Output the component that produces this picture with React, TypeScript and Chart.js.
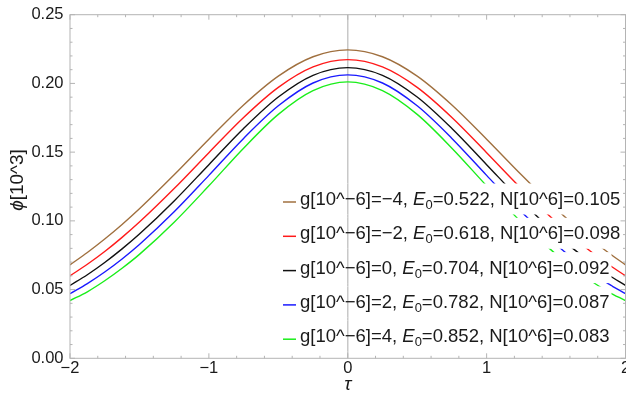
import React, { useEffect, useRef } from "react";
import { Chart, registerables } from "chart.js";

Chart.register(...registerables);

// τ sample positions and φ[10^3] values for each coupling g[10^-6]
const tauValues = [-2, -1.875, -1.75, -1.625, -1.5, -1.25, -1, -0.75, -0.5, -0.25, 0, 0.25, 0.5, 0.75, 1, 1.25, 1.5, 1.625, 1.75, 1.875, 2];

const phiGm4 = [0.068, 0.077, 0.0868, 0.0974, 0.1088, 0.1335, 0.1594, 0.1843, 0.2053, 0.2194, 0.2244, 0.2194, 0.2053, 0.1843, 0.1594, 0.1335, 0.1088, 0.0974, 0.0868, 0.077, 0.068];
const phiGm2 = [0.06, 0.0684, 0.0777, 0.088, 0.0991, 0.1235, 0.1496, 0.1752, 0.1971, 0.212, 0.2173, 0.212, 0.1971, 0.1752, 0.1496, 0.1235, 0.0991, 0.088, 0.0777, 0.0684, 0.06];
const phiG0 = [0.053, 0.0608, 0.0697, 0.0796, 0.0904, 0.1145, 0.1409, 0.1672, 0.1901, 0.2059, 0.2115, 0.2059, 0.1901, 0.1672, 0.1409, 0.1145, 0.0904, 0.0796, 0.0697, 0.0608, 0.053];
const phiG2 = [0.047, 0.0544, 0.0628, 0.0723, 0.0828, 0.1066, 0.1331, 0.16, 0.1837, 0.2003, 0.2062, 0.2003, 0.1837, 0.16, 0.1331, 0.1066, 0.0828, 0.0723, 0.0628, 0.0544, 0.047];
const phiG4 = [0.042, 0.0484, 0.0564, 0.0655, 0.0756, 0.099, 0.1255, 0.1529, 0.1775, 0.1948, 0.2011, 0.1948, 0.1775, 0.1529, 0.1255, 0.099, 0.0756, 0.0655, 0.0564, 0.0484, 0.042];

const gValues = [-4, -2, 0, 2, 4];
const e0Values = ["0.522", "0.618", "0.704", "0.782", "0.852"];
const nValues = ["0.105", "0.098", "0.092", "0.087", "0.083"];
const seriesColors = ["#a0703f", "#ff1a1a", "#111111", "#1a1aff", "#1aee1a"];

const xTickValues = [-2, -1, 0, 1, 2];
const yTickValues = [0, 0.05, 0.1, 0.15, 0.2, 0.25];

const FONT = "'Liberation Sans', Arial, sans-serif";
const FRAME_COLOR = "#b4b4b4";
const AXIS_COLOR = "#c8c8c8";

const signed = (v: number) => (v < 0 ? "\u2212" + Math.abs(v) : String(v));

const LEG_FS = 18.5;
const LEG_X_MARK = 283;
const LEG_X_TEXT = 300;
const LEG_Y0 = 198.5;
const LEG_DY = 34.3;

function legendRows(ctx: CanvasRenderingContext2D) {
  return gValues.map((g, i) => {
    const p1 = `g[10^\u22126]=${signed(g)}, `;
    const p2 = "E";
    const p3 = "0";
    const p4 = `=${e0Values[i]}, N[10^6]=${nValues[i]}`;
    ctx.font = `${LEG_FS}px ${FONT}`;
    const w1 = ctx.measureText(p1).width;
    const w4 = ctx.measureText(p4).width;
    ctx.font = `italic ${LEG_FS}px ${FONT}`;
    const w2 = ctx.measureText(p2).width;
    ctx.font = `${LEG_FS * 0.7}px ${FONT}`;
    const w3 = ctx.measureText(p3).width;
    return { p1, p2, p3, p4, w1, w2, w3, w4, cy: LEG_Y0 + i * LEG_DY, color: seriesColors[i] };
  });
}

const decorPlugin = {
  id: "decor",
  beforeDatasetsDraw(chart: any) {
    const { ctx, chartArea: a, scales } = chart;
    const x0 = scales.x.getPixelForValue(0);
    ctx.save();
    ctx.strokeStyle = AXIS_COLOR;
    ctx.lineWidth = 1.5;
    ctx.beginPath();
    ctx.moveTo(x0, a.top);
    ctx.lineTo(x0, a.bottom);
    ctx.stroke();
    ctx.restore();
  },
  afterDatasetsDraw(chart: any) {
    const { ctx, scales } = chart;
    const x0 = scales.x.getPixelForValue(0);
    const rows = legendRows(ctx);
    ctx.save();
    // row backgrounds
    rows.forEach((r) => {
      const end = LEG_X_TEXT + r.w1 + r.w2 + r.w3 + r.w4 + 2;
      ctx.fillStyle = "#ffffff";
      ctx.fillRect(LEG_X_MARK - 2, r.cy - 15, end - LEG_X_MARK + 2, 31);
      ctx.strokeStyle = AXIS_COLOR;
      ctx.lineWidth = 1.5;
      ctx.beginPath();
      ctx.moveTo(x0, r.cy - 15);
      ctx.lineTo(x0, r.cy + 16);
      ctx.stroke();
    });
    // markers and labels
    rows.forEach((r) => {
      ctx.strokeStyle = r.color;
      ctx.lineWidth = 1.5;
      ctx.beginPath();
      ctx.moveTo(LEG_X_MARK, r.cy + 3.5);
      ctx.lineTo(LEG_X_MARK + 13, r.cy + 3.5);
      ctx.stroke();
      const base = r.cy + 0.358 * LEG_FS;
      ctx.fillStyle = "#1a1a1a";
      ctx.textBaseline = "alphabetic";
      ctx.textAlign = "left";
      let x = LEG_X_TEXT;
      ctx.font = `${LEG_FS}px ${FONT}`;
      ctx.fillText(r.p1, x, base);
      x += r.w1;
      ctx.font = `italic ${LEG_FS}px ${FONT}`;
      ctx.fillText(r.p2, x, base);
      x += r.w2;
      ctx.font = `${LEG_FS * 0.7}px ${FONT}`;
      ctx.fillText(r.p3, x, base + 4);
      x += r.w3;
      ctx.font = `${LEG_FS}px ${FONT}`;
      ctx.fillText(r.p4, x, base);
    });
    ctx.restore();
  },
  afterDraw(chart: any) {
    const { ctx, chartArea: a, scales } = chart;
    const xs = scales.x;
    const ys = scales.y;
    ctx.save();
    ctx.strokeStyle = FRAME_COLOR;
    ctx.lineWidth = 1;
    ctx.strokeRect(a.left, a.top, a.right - a.left, a.bottom - a.top);
    ctx.beginPath();
    // x frame ticks: majors at integers, minors every 0.2
    for (let k = -10; k <= 10; k++) {
      const v = k / 5;
      const px = xs.getPixelForValue(v);
      const len = k % 5 === 0 ? 5 : 2.5;
      ctx.moveTo(px, a.bottom);
      ctx.lineTo(px, a.bottom - len);
      ctx.moveTo(px, a.top);
      ctx.lineTo(px, a.top + len);
    }
    // y frame ticks: majors every 0.05, minors every 0.01
    for (let k = 0; k <= 25; k++) {
      const v = k / 100;
      const py = ys.getPixelForValue(v);
      const len = k % 5 === 0 ? 5 : 2.5;
      ctx.moveTo(a.left, py);
      ctx.lineTo(a.left + len, py);
      ctx.moveTo(a.right, py);
      ctx.lineTo(a.right - len, py);
    }
    ctx.stroke();

    // axis titles
    ctx.fillStyle = "#1a1a1a";
    ctx.textBaseline = "alphabetic";
    ctx.textAlign = "center";
    ctx.font = `italic 19px ${FONT}`;
    ctx.fillText("\u03c4", xs.getPixelForValue(0), 390);

    ctx.translate(22.7, 180);
    ctx.rotate(-Math.PI / 2);
    ctx.font = `italic 19px ${FONT}`;
    const wPhi = ctx.measureText("\u03d5").width;
    ctx.font = `19px ${FONT}`;
    const wRest = ctx.measureText("[10^3]").width;
    const start = -(wPhi + wRest) / 2;
    ctx.textAlign = "left";
    ctx.font = `italic 19px ${FONT}`;
    ctx.fillText("\u03d5", start, 0);
    ctx.font = `19px ${FONT}`;
    ctx.fillText("[10^3]", start + wPhi, 0);
    ctx.restore();
  },
};

export default function App() {
  const canvasRef = useRef<HTMLCanvasElement | null>(null);

  useEffect(() => {
    const canvas = canvasRef.current;
    if (!canvas) return;
    const series = [phiGm4, phiGm2, phiG0, phiG2, phiG4];
    const chart = new Chart(canvas, {
      type: "line",
      data: {
        datasets: series.map((vals, i) => ({
          label: `g=${gValues[i]}`,
          data: tauValues.map((t, j) => ({ x: t, y: vals[j] })),
          borderColor: seriesColors[i],
          backgroundColor: seriesColors[i],
          borderWidth: 1.4,
          pointRadius: 0,
          fill: false,
          cubicInterpolationMode: "monotone",
        })),
      },
      options: {
        responsive: false,
        animation: false,
        devicePixelRatio: 1,
        events: [],
        layout: { padding: { top: 14.7, right: 14.5, left: 0, bottom: 0 } },
        plugins: { legend: { display: false }, tooltip: { enabled: false } },
        scales: {
          x: {
            type: "linear",
            min: -2,
            max: 2,
            grid: { display: false, drawTicks: false },
            border: { display: false },
            ticks: {
              padding: 0,
              color: "#1a1a1a",
              font: { family: FONT, size: 16.5 },
              callback: (v: any) => signed(Number(v)),
            },
            afterBuildTicks: (s: any) => {
              s.ticks = xTickValues.map((v) => ({ value: v }));
            },
            afterFit: (s: any) => {
              s.height = 397 - 358.3;
              s.paddingLeft = 0;
              s.paddingRight = 0;
            },
          },
          y: {
            type: "linear",
            min: 0,
            max: 0.25,
            grid: { display: false, drawTicks: false },
            border: { display: false },
            ticks: {
              padding: 6.5,
              color: "#1a1a1a",
              font: { family: FONT, size: 16.5 },
              callback: (v: any) => Number(v).toFixed(2),
            },
            afterBuildTicks: (s: any) => {
              s.ticks = yTickValues.map((v) => ({ value: v }));
            },
            afterFit: (s: any) => {
              s.width = 70;
              s.paddingTop = 0;
              s.paddingBottom = 0;
            },
          },
        },
      },
      plugins: [decorPlugin],
    } as any);
    return () => chart.destroy();
  }, []);

  return (
    <div
      style={{
        position: "fixed",
        left: 0,
        top: 0,
        width: 626,
        height: 397,
        overflow: "hidden",
        background: "#ffffff",
      }}
    >
      <canvas ref={canvasRef} width={640} height={397} style={{ display: "block" }} />
    </div>
  );
}
